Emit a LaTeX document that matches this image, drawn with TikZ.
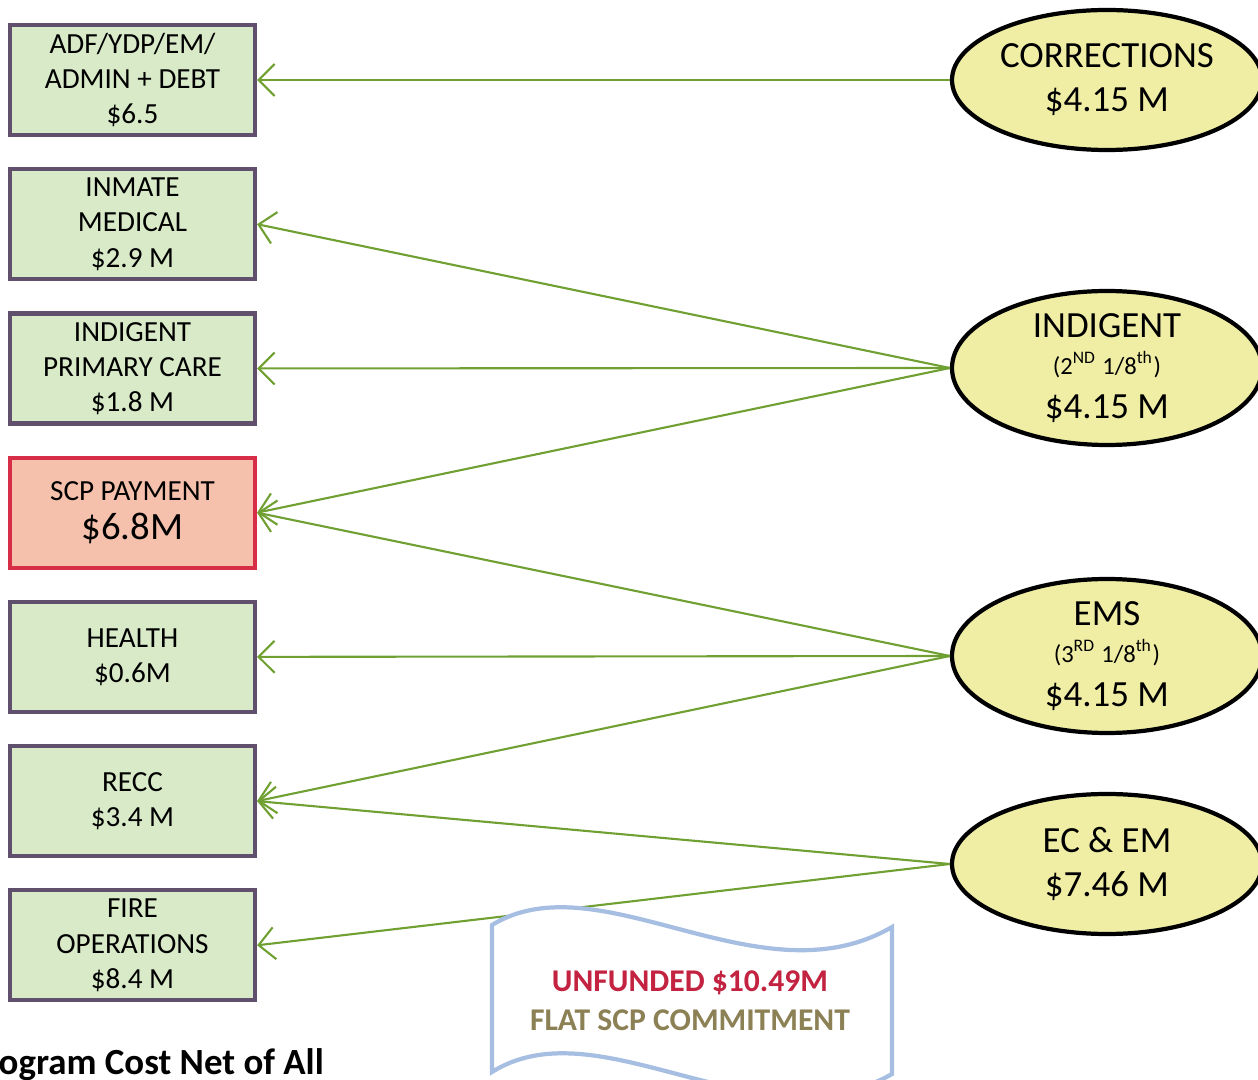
\documentclass[tikz,border=0pt]{standalone}
\usepackage{fontspec}
\setmainfont{Carlito}
\usepackage{tikz}
\usetikzlibrary{positioning,arrows.meta,shapes.geometric}
\usepackage{xcolor}

\definecolor{boxfill}{RGB}{216,234,200}
\definecolor{boxline}{RGB}{96,80,110}
\definecolor{scpfill}{RGB}{245,192,172}
\definecolor{scpline}{RGB}{215,45,70}
\definecolor{ellfill}{RGB}{240,238,165}
\definecolor{flowgreen}{RGB}{112,160,50}
\definecolor{bannerline}{RGB}{165,190,225}
\definecolor{unfred}{RGB}{195,35,65}
\definecolor{flatolive}{RGB}{140,128,85}

\begin{document}
\begin{tikzpicture}[
    node distance=0.3cm,
    fund/.style={draw=boxline, line width=1.2pt, fill=boxfill, minimum width=2.45cm, minimum height=1.10cm, align=center, inner sep=1pt, font=\fontsize{8.3}{10}\selectfont},
    src/.style={draw=black, line width=1.2pt, fill=ellfill, ellipse, minimum width=3.1cm, minimum height=1.4cm, inner sep=0pt, align=center, font=\fontsize{10.5}{12.5}\selectfont},
    flow/.style={draw=flowgreen, line width=0.6pt, -{Straight Barb[length=1.6mm,width=3.2mm]}},
  ]
  \useasboundingbox (0,0) rectangle (12.58,10.79);
  \clip (0,0) rectangle (12.58,10.79);

  % funding uses (left column)
  \node[fund] (adf) at (1.325,9.99) {ADF/YDP/EM/\\ADMIN + DEBT\\\$6.5};
  \node[fund, below=of adf] (inmate) {INMATE\\MEDICAL\\\$2.9 M};
  \node[fund, below=of inmate] (primary) {INDIGENT\\PRIMARY CARE\\\$1.8 M};
  \node[fund, draw=scpline, fill=scpfill, below=of primary] (scp) {SCP PAYMENT\\[1pt]{\fontsize{11}{13}\selectfont \$6.8M}};
  \node[fund, below=of scp] (health) {HEALTH\\\$0.6M};
  \node[fund, below=of health] (recc) {RECC\\\$3.4 M};
  \node[fund, below=of recc] (fire) {FIRE\\OPERATIONS\\\$8.4 M};

  % revenue sources (right column)
  \node[src] (corr) at (11.07,9.99) {CORRECTIONS\\\$4.15 M};
  \node[src] (indig) at (11.07,7.11) {INDIGENT\\[-2pt]{\fontsize{7}{8.5}\selectfont (2\textsuperscript{ND} 1/8\textsuperscript{th})}\\\$4.15 M};
  \node[src] (ems) at (11.07,4.23) {EMS\\[-2pt]{\fontsize{7}{8.5}\selectfont (3\textsuperscript{RD} 1/8\textsuperscript{th})}\\\$4.15 M};
  \node[src] (ecem) at (11.07,2.15) {EC \& EM\\\$7.46 M};

  \draw[flow] (corr.west) -- (adf.east);
  \draw[flow] (indig.west) -- (inmate.east);
  \draw[flow] (indig.west) -- (primary.east);
  \draw[flow] (indig.west) -- (scp.east);
  \draw[flow] (ems.west) -- (scp.east);
  \draw[flow] (ems.west) -- (health.east);
  \draw[flow] (ems.west) -- (recc.east);
  \draw[flow] (ecem.west) -- (recc.east);
  \draw[flow] (ecem.west) -- (fire.east);

  % banner
  \draw[bannerline, line width=1.2pt, fill=white]
    (4.92,1.54) .. controls (6.0,2.2) and (7.6,0.75) .. (8.92,1.52)
    -- (8.92,0.05) .. controls (7.6,-0.7) and (6.0,0.75) .. (4.92,0.07) -- cycle;
  \node[align=center, font=\bfseries\fontsize{9}{11}\selectfont] (banner) at (6.90,0.785)
    {\textcolor{unfred}{UNFUNDED \$10.49M}\\\textcolor{flatolive}{FLAT SCP COMMITMENT}};

  \node[anchor=base west, inner sep=0pt, font=\bfseries\fontsize{10.5}{12}\selectfont] (caption) at (-0.02,0.05) {ogram Cost Net of All};
\end{tikzpicture}
\end{document}
